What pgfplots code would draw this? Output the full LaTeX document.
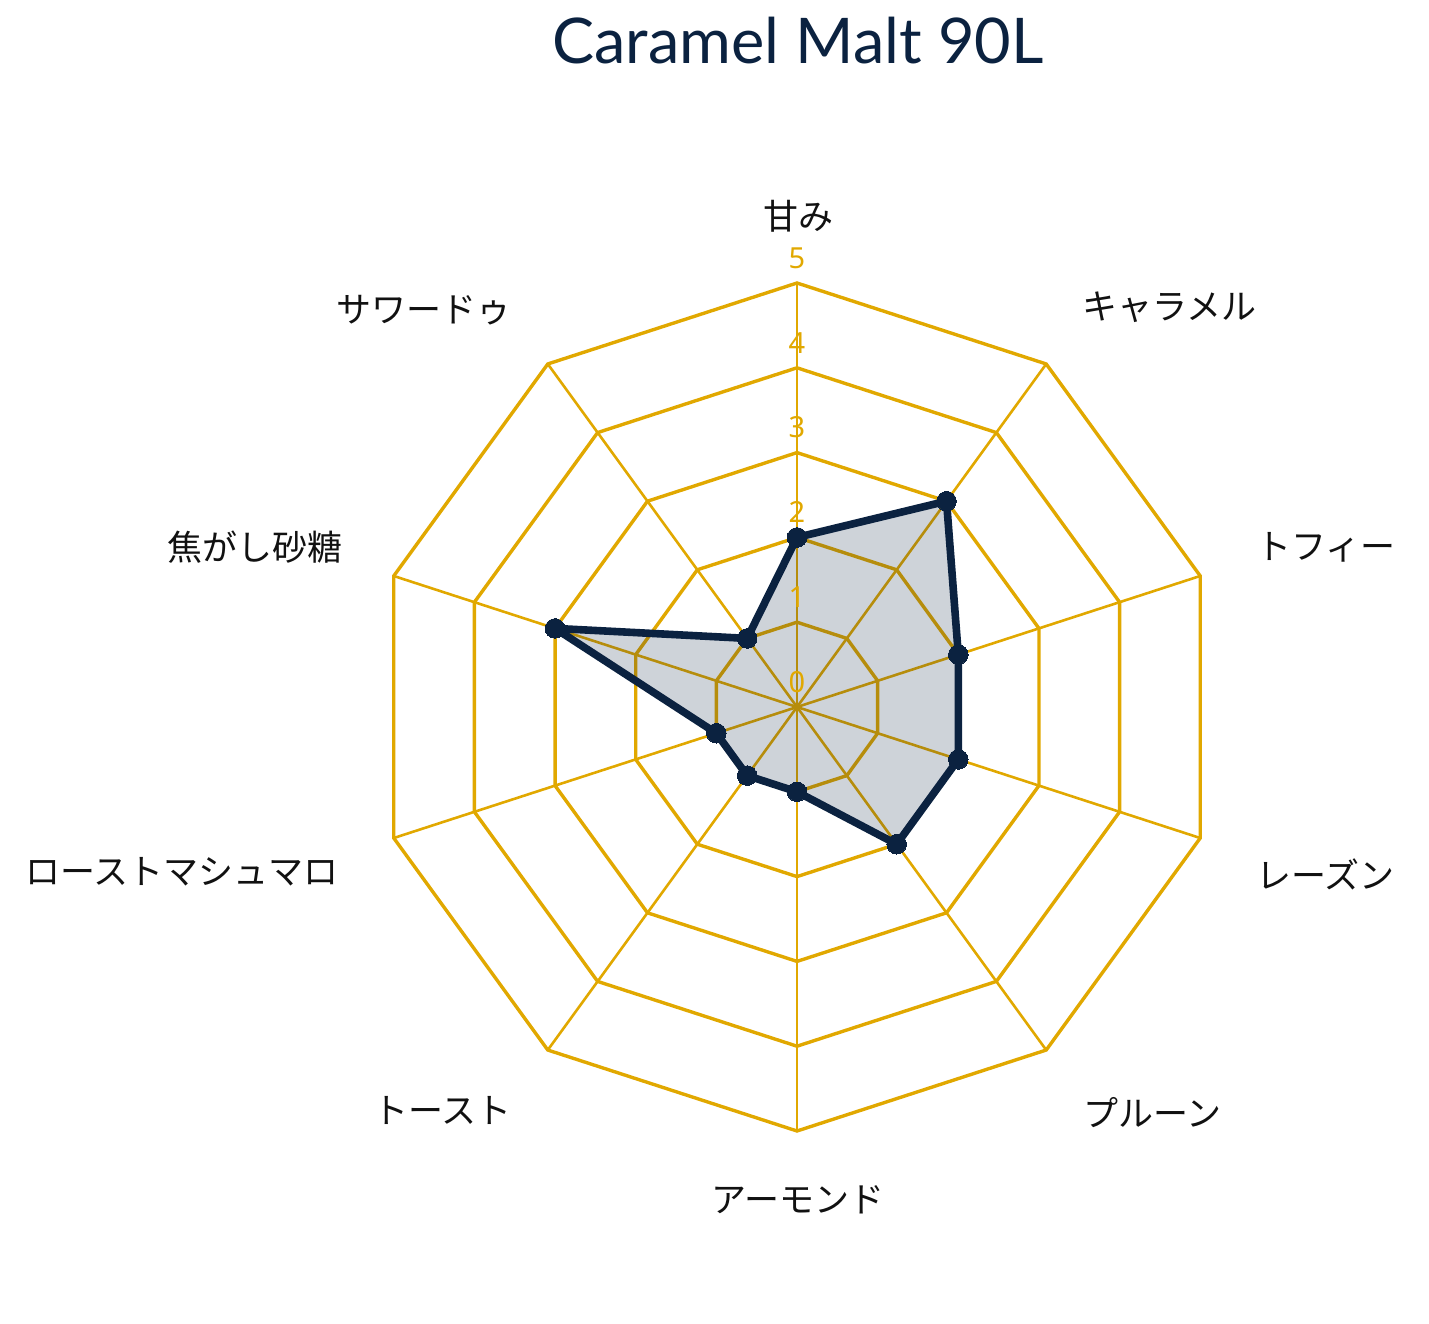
\documentclass[border=0pt]{standalone}
\usepackage{fontspec}
\setmainfont{Noto Sans}
\newfontfamily\titlefont{Lato}
\newfontfamily\cjk{Noto Sans CJK JP}
\usepackage{pgfplots}
\usepgfplotslibrary{polar}
\pgfplotsset{compat=1.18}
\definecolor{navy}{RGB}{11,34,64}
\definecolor{gold}{RGB}{225,168,0}
\definecolor{lab}{RGB}{17,17,17}
\begin{document}
\begin{tikzpicture}
\begin{polaraxis}[
  hide axis, scale only axis, width=424pt, height=424pt,
  xmin=0, xmax=360, ymin=0, ymax=5, clip=false,
]
% spokes
\addplot[gold, line width=1.3pt] coordinates {(90,0)(90,5)};
\addplot[gold, line width=1.3pt] coordinates {(54,0)(54,5)};
\addplot[gold, line width=1.3pt] coordinates {(18,0)(18,5)};
\addplot[gold, line width=1.3pt] coordinates {(342,0)(342,5)};
\addplot[gold, line width=1.3pt] coordinates {(306,0)(306,5)};
\addplot[gold, line width=1.3pt] coordinates {(270,0)(270,5)};
\addplot[gold, line width=1.3pt] coordinates {(234,0)(234,5)};
\addplot[gold, line width=1.3pt] coordinates {(198,0)(198,5)};
\addplot[gold, line width=1.3pt] coordinates {(162,0)(162,5)};
\addplot[gold, line width=1.3pt] coordinates {(126,0)(126,5)};
% rings
\addplot[gold, line width=1.7pt, line join=miter] coordinates {(90,1)(54,1)(18,1)(342,1)(306,1)(270,1)(234,1)(198,1)(162,1)(126,1)} -- cycle;
\addplot[gold, line width=1.7pt, line join=miter] coordinates {(90,2)(54,2)(18,2)(342,2)(306,2)(270,2)(234,2)(198,2)(162,2)(126,2)} -- cycle;
\addplot[gold, line width=1.7pt, line join=miter] coordinates {(90,3)(54,3)(18,3)(342,3)(306,3)(270,3)(234,3)(198,3)(162,3)(126,3)} -- cycle;
\addplot[gold, line width=1.7pt, line join=miter] coordinates {(90,4)(54,4)(18,4)(342,4)(306,4)(270,4)(234,4)(198,4)(162,4)(126,4)} -- cycle;
\addplot[gold, line width=1.7pt, line join=miter] coordinates {(90,5)(54,5)(18,5)(342,5)(306,5)(270,5)(234,5)(198,5)(162,5)(126,5)} -- cycle;
% fill
\addplot[draw=none, fill=navy, fill opacity=0.2] coordinates {(90,2)(54,3)(18,2)(342,2)(306,2)(270,1)(234,1)(198,1)(162,3)(126,1)} -- cycle;
% radial tick labels
\node[gold, inner sep=0, font=\fontsize{14.5}{14.5}\selectfont, yshift=12.5pt] at (axis cs:90,0) {0};
\node[gold, inner sep=0, font=\fontsize{14.5}{14.5}\selectfont, yshift=12.5pt] at (axis cs:90,1) {1};
\node[gold, inner sep=0, font=\fontsize{14.5}{14.5}\selectfont, yshift=12.5pt] at (axis cs:90,2) {2};
\node[gold, inner sep=0, font=\fontsize{14.5}{14.5}\selectfont, yshift=12.5pt] at (axis cs:90,3) {3};
\node[gold, inner sep=0, font=\fontsize{14.5}{14.5}\selectfont, yshift=12.5pt] at (axis cs:90,4) {4};
\node[gold, inner sep=0, font=\fontsize{14.5}{14.5}\selectfont, yshift=12.5pt] at (axis cs:90,5) {5};
% data
\addplot[navy, line width=3.8pt, line join=round, mark=*, mark size=4.9pt, mark options={solid, fill=navy, draw=navy, line width=0pt}] coordinates {(90,2)(54,3)(18,2)(342,2)(306,2)(270,1)(234,1)(198,1)(162,3)(126,1)} -- cycle;
\coordinate (c) at (axis cs:0,0);
\end{polaraxis}
% category labels
\begin{scope}[every node/.style={inner sep=0, text=lab, font=\cjk\fontsize{17.5}{17.5}\selectfont}]
\node[anchor=center] at ([shift={(0.5pt,245.5pt)}]c) {甘み};
\node[anchor=west] at ([shift={(142.5pt,200pt)}]c) {キャラメル};
\node[anchor=west] at ([shift={(229.5pt,80pt)}]c) {トフィー};
\node[anchor=west] at ([shift={(229.5pt,-83.5pt)}]c) {レーズン};
\node[anchor=west] at ([shift={(143pt,-203pt)}]c) {プルーン};
\node[anchor=center] at ([shift={(0.5pt,-246.5pt)}]c) {アーモンド};
\node[anchor=east] at ([shift={(-142.5pt,-201.5pt)}]c) {トースト};
\node[anchor=east] at ([shift={(-229pt,-82.5pt)}]c) {ローストマシュマロ};
\node[anchor=east] at ([shift={(-227pt,80pt)}]c) {焦がし砂糖};
\node[anchor=east] at ([shift={(-142.5pt,198.5pt)}]c) {サワードゥ};
\end{scope}
% title
\node[anchor=base, inner sep=0, text=navy, font=\titlefont\fontsize{31.5}{31.5}\selectfont] at ([shift={(0.5pt,321.5pt)}]c) {Caramel Malt 90L};
\pgfresetboundingbox
\useasboundingbox ([shift={(-398.5pt,-308pt)}]c) rectangle ([shift={(316pt,353.5pt)}]c);
\end{tikzpicture}
\end{document}
